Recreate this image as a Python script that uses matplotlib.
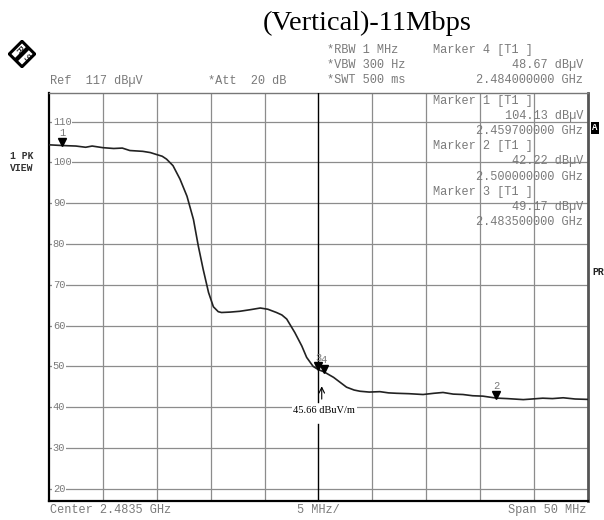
import numpy as np
import matplotlib.pyplot as plt
from matplotlib.patches import Polygon

# Trace (frequency in MHz, level in dBuV)
freq_mhz = [2458.5, 2459.7, 2461.0, 2461.9, 2462.5, 2463.5, 2464.5, 2465.3,
            2466.0, 2467.2, 2467.9, 2468.5, 2469.0, 2469.4, 2470.0, 2470.65,
            2471.3, 2471.9, 2472.35, 2472.8, 2473.3, 2473.75, 2474.2, 2474.5,
            2475.3, 2476.2, 2477.2, 2478.1, 2478.8, 2479.6, 2480.1, 2480.55,
            2481.3, 2481.95, 2482.4, 2483.0, 2483.5, 2484.0, 2484.9, 2486.1,
            2486.8, 2487.35, 2488.2, 2489.2, 2490.0, 2490.75, 2491.9, 2493.2,
            2494.2, 2495.05, 2496.0, 2496.9, 2497.8, 2498.75, 2500.0, 2501.0,
            2502.5, 2503.3, 2504.3, 2505.2, 2506.2, 2507.3, 2508.5]
level_dbuv = [104.3, 104.13, 104.0, 103.7, 104.0, 103.6, 103.4, 103.5,
              102.9, 102.7, 102.4, 101.9, 101.5, 100.8, 99.2, 95.9,
              91.7, 86.0, 79.5, 73.8, 68.1, 64.6, 63.4, 63.2,
              63.3, 63.5, 63.9, 64.3, 64.0, 63.2, 62.6, 61.6,
              58.3, 55.0, 52.2, 50.0, 49.17, 48.67, 47.3, 44.9,
              44.2, 43.9, 43.7, 43.8, 43.5, 43.4, 43.3, 43.1,
              43.4, 43.6, 43.2, 43.1, 42.8, 42.7, 42.22, 42.1,
              41.85, 42.0, 42.2, 42.1, 42.3, 42.0, 41.9]

# Markers: number, frequency (MHz), level (dBuV)
marker_ids = ["1", "2", "3", "4"]
marker_freq = [2459.7, 2500.0, 2483.5, 2484.0]
marker_level = [104.13, 42.22, 49.17, 48.67]

center_mhz = 2483.5
span_mhz = 50.0
ref_level = 117
ytick_vals = [110, 100, 90, 80, 70, 60, 50, 40, 30, 20]
field_note = "45.66 dBuV/m"
field_note_y = 39.2

W, H = 604, 520
def fpos(x, y):
    return x / W, 1 - y / H

mono = "Liberation Mono"
grey = "#7a7a7a"

fig = plt.figure(figsize=(6.04, 5.20), dpi=100)
ax = fig.add_axes([49 / W, 19 / H, 539 / W, 408 / H])

f0 = center_mhz - span_mhz / 2
f1 = center_mhz + span_mhz / 2
ax.set_xlim(f0, f1)
ax.set_ylim(ref_level - 100, ref_level)

# grid
for fx in np.arange(f0 + 5, f1, 5):
    if abs(fx - center_mhz) > 1e-6:
        ax.axvline(fx, color="#8c8c8c", lw=0.9, zorder=1)
for yv in ytick_vals:
    ax.axhline(yv, color="#8c8c8c", lw=0.9, zorder=1)
    ax.text(f0 + 0.35, yv, "%d" % yv, fontsize=7.5, family=mono, color=grey,
            va="center", ha="left", zorder=2,
            bbox=dict(facecolor="white", edgecolor="none", pad=0.3))

# centre line, broken around the field strength note
ax.axvline(center_mhz, ymin=(41.3 - 17) / 100, ymax=1, color="black", lw=1.0, zorder=3)
ax.axvline(center_mhz, ymin=0, ymax=(35.9 - 17) / 100, color="black", lw=1.0, zorder=3)

ax.plot(freq_mhz, level_dbuv, color="#222222", lw=1.2, zorder=4)

for mid, mf, ml in zip(marker_ids, marker_freq, marker_level):
    ax.plot(mf, ml + 0.8, marker="v", color="black", ms=5.5, zorder=5)
    ax.text(mf, ml + 3.0, mid, fontsize=7.5, family=mono, color=grey,
            ha="center", va="center", zorder=5)

ax.annotate("", xy=(center_mhz + 0.3, 45.8), xytext=(center_mhz + 0.3, 41.3),
            arrowprops=dict(arrowstyle="->", color="black", lw=0.8,
                            mutation_scale=10), zorder=6)
ax.text(center_mhz + 0.55, field_note_y, field_note, fontsize=7.5,
        family="Liberation Serif", ha="center", va="center", zorder=6,
        bbox=dict(facecolor="white", edgecolor="none", pad=1.2))

# marker readout block inside the screen
readout = [("Marker 1 [T1 ]", "left"), ("104.13 dB\u00b5V", "right"),
           ("2.459700000 GHz", "right"), ("Marker 2 [T1 ]", "left"),
           ("42.22 dB\u00b5V", "right"), ("2.500000000 GHz", "right"),
           ("Marker 3 [T1 ]", "left"), ("49.17 dB\u00b5V", "right"),
           ("2.483500000 GHz", "right")]
for i, (txt, side) in enumerate(readout):
    y = 101 + i * 15.1
    x = 433 if side == "left" else 583
    fig.text(*fpos(x, y), txt, fontsize=8.6, family=mono, color=grey,
             ha=side, va="center")

ax.set_xticks([])
ax.set_yticks([])
ax.spines["left"].set_color("black")
ax.spines["left"].set_linewidth(1.6)
ax.spines["bottom"].set_color("black")
ax.spines["bottom"].set_linewidth(1.6)
ax.spines["top"].set_color("#777777")
ax.spines["top"].set_linewidth(1.0)
ax.spines["right"].set_color("#555555")
ax.spines["right"].set_linewidth(2.0)

# header
fig.text(*fpos(367, 23), "(Vertical)-11Mbps", fontsize=20.5,
         family="Liberation Serif", ha="center", va="center")
fig.text(*fpos(50, 81), "Ref  117 dB\u00b5V", fontsize=8.6, family=mono,
         color=grey, va="center")
fig.text(*fpos(208, 81), "*Att  20 dB", fontsize=8.6, family=mono,
         color=grey, va="center")
for i, txt in enumerate(["*RBW 1 MHz", "*VBW 300 Hz", "*SWT 500 ms"]):
    fig.text(*fpos(327, 50 + i * 15), txt, fontsize=8.6, family=mono,
             color=grey, va="center")
fig.text(*fpos(433, 50), "Marker 4 [T1 ]", fontsize=8.6, family=mono,
         color=grey, va="center")
fig.text(*fpos(583, 65), "48.67 dB\u00b5V", fontsize=8.6, family=mono,
         color=grey, va="center", ha="right")
fig.text(*fpos(583, 80), "2.484000000 GHz", fontsize=8.6, family=mono,
         color=grey, va="center", ha="right")

# footer
fig.text(*fpos(50, 510), "Center 2.4835 GHz", fontsize=8.6, family=mono,
         color=grey, va="center")
fig.text(*fpos(318, 510), "5 MHz/", fontsize=8.6, family=mono,
         color=grey, va="center", ha="center")
fig.text(*fpos(586, 510), "Span 50 MHz", fontsize=8.6, family=mono,
         color=grey, va="center", ha="right")

# side labels
fig.text(*fpos(10, 156), "1 PK", fontsize=7, family=mono, weight="bold",
         color="#333333", va="center")
fig.text(*fpos(10, 168), "VIEW", fontsize=7, family=mono, weight="bold",
         color="#333333", va="center")
fig.text(*fpos(595, 128), "A", fontsize=6.5, family=mono, weight="bold",
         color="white", va="center", ha="center",
         bbox=dict(facecolor="black", edgecolor="none", pad=1.0))
fig.text(*fpos(592, 272), "PR", fontsize=7, family=mono, weight="bold",
         color="#222222", va="center")

# R&S logo
lg = fig.add_axes([8 / W, (520 - 68) / H, 28 / W, 28 / H])
lg.set_xlim(-1.1, 1.1)
lg.set_ylim(-1.1, 1.1)
lg.axis("off")
lg.add_patch(Polygon([(0, 1), (1, 0), (0, -1), (-1, 0)], closed=True,
                     facecolor="white", edgecolor="black", lw=2.2))
lg.add_patch(Polygon([(0.62, 0.38), (0.38, 0.62), (-0.62, -0.38), (-0.38, -0.62)],
                     closed=True, facecolor="black", edgecolor="none"))
lg.text(-0.32, 0.3, "R", fontsize=6, ha="center", va="center", rotation=-45)
lg.text(0.32, -0.3, "S", fontsize=6, ha="center", va="center", rotation=-45)

fig.savefig("out.png", dpi=100)
